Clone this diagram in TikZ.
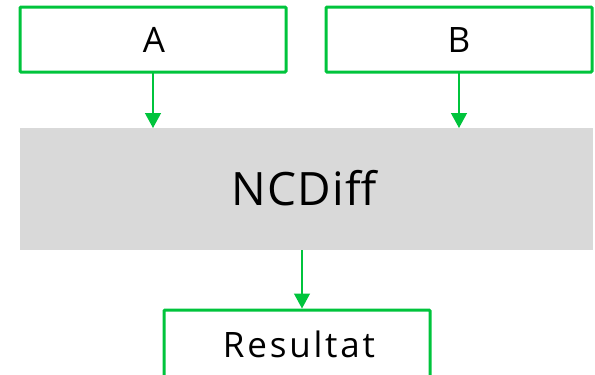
\documentclass[tikz,border=0pt]{standalone}
\usepackage{fontspec}
\setmainfont{Open Sans}
\newfontfamily\labelwide[LetterSpace=8]{Open Sans}
\newfontfamily\labelmid[LetterSpace=3]{Open Sans}
\usetikzlibrary{arrows.meta}
\definecolor{boxgreen}{HTML}{00C43C}
\definecolor{panelgray}{HTML}{D9D9D9}
\tikzset{
  inbox/.style={draw=boxgreen, line width=3pt, fill=white, rounded corners=1pt},
  flow/.style={draw=boxgreen, line width=1.3pt, -{Triangle[width=16pt,length=15pt]}},
  lbl/.style={anchor=base, inner sep=0pt},
}
\begin{document}
\begin{tikzpicture}[x=1pt,y=-1pt]
\useasboundingbox (0,0) rectangle (595,375);
\begin{scope}
\clip (0,0) rectangle (595,375);
% input boxes
\draw[inbox] (20,7) rectangle (286,72);
\node[lbl] (a) at (154,52) {\fontsize{35}{40}\selectfont A};
\coordinate (abot) at (153,72);
\draw[inbox] (326,7) rectangle (592,72);
\node[lbl] (b) at (459,52) {\fontsize{35}{40}\selectfont B};
\coordinate (bbot) at (459,72);
% central operator panel
\fill[panelgray] (20,128) rectangle (593,250);
\node[lbl] (nc) at (304,205) {\labelmid\fontsize{46}{52}\selectfont NCDiff};
\coordinate (atop) at (153,128);
\coordinate (btop) at (459,128);
\coordinate (ncbot) at (302,250);
% result box
\draw[inbox] (164,310) rectangle (430,378);
\node[lbl] (res) at (299,357) {\labelwide\fontsize{35}{40}\selectfont Resultat};
\coordinate (restop) at (302,308.5);
% connectors
\draw[flow] (abot) -- (atop);
\draw[flow] (bbot) -- (btop);
\draw[flow] (ncbot) -- (restop);
\end{scope}
\end{tikzpicture}
\end{document}
